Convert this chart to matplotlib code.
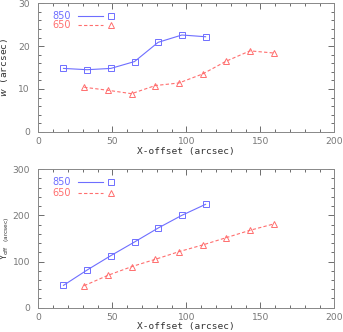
#!/usr/bin/env python3

# w and Y-offset against X-offset for the 850 and 650 samples

import matplotlib
matplotlib.use('Agg')
import matplotlib.pyplot as plt
from matplotlib.ticker import MultipleLocator

x_850 = [17, 33, 49, 65, 81, 97, 113]
x_650 = [31, 47, 63, 79, 95, 111, 127, 143, 159]
w_850 = [14.8, 14.5, 14.8, 16.4, 20.9, 22.6, 22.2]
w_650 = [10.4, 9.7, 8.9, 10.8, 11.4, 13.5, 16.5, 18.9, 18.4]
yoff_850 = [48.4, 81.7, 112.8, 142.4, 172.7, 200.2, 224.0]
yoff_650 = [47.7, 70.1, 88.9, 104.8, 121.4, 135.9, 151.8, 167.7, 181.4]
labels = ['850', '650']

blue = '#6e6eff'
red = '#ff6e6e'
mono = 'DejaVu Sans Mono'

fig = plt.figure(figsize=(3.43, 3.32), dpi=100)
ax1 = fig.add_axes([0.1117, 0.603, 0.863, 0.387])
ax2 = fig.add_axes([0.1117, 0.0732, 0.863, 0.417])


def style(ax, ymax, ymajor, yminor, xlab_y):
    ax.set_xlim(0, 200)
    ax.set_ylim(0, ymax)
    ax.xaxis.set_major_locator(MultipleLocator(50))
    ax.xaxis.set_minor_locator(MultipleLocator(10))
    ax.yaxis.set_major_locator(MultipleLocator(ymajor))
    ax.yaxis.set_minor_locator(MultipleLocator(yminor))
    ax.tick_params(which='both', direction='in', top=True, right=True,
                   labelsize=6.6, colors='#555555', labelcolor='#777777', width=0.6)
    ax.tick_params(which='major', length=4)
    ax.tick_params(which='minor', length=2)
    ax.tick_params(axis='y', pad=6)
    for s in ax.spines.values():
        s.set_color('#888888')
        s.set_linewidth(0.7)
    ax.set_xlabel('X-offset (arcsec)', family=mono, fontsize=6.8, color='#333333')
    ax.xaxis.set_label_coords(0.5, xlab_y)


def legend(ax):
    for i, (lab, col, ls, mk) in enumerate(zip(labels, [blue, red], ['-', '--'], ['s', '^'])):
        y = 0.905 - i * 0.075
        ax.text(0.047, y, lab, color=col, fontsize=7, va='center', transform=ax.transAxes)
        ax.plot([0.135, 0.22], [y, y], color=col, ls=ls, lw=0.8, dashes=(3, 2) if ls == '--' else (None, None),
                transform=ax.transAxes)
        ax.plot([0.247], [y], marker=mk, ms=3.8, mfc='none', mec=col, mew=0.7, transform=ax.transAxes)


def series(ax, y850, y650):
    ax.plot(x_850, y850, color=blue, lw=0.8, marker='s', ms=3.8, mfc='none', mec=blue, mew=0.7)
    ax.plot(x_650, y650, color=red, lw=0.8, ls='--', dashes=(3, 2), marker='^', ms=3.8,
            mfc='none', mec=red, mew=0.7)


series(ax1, w_850, w_650)
style(ax1, 30, 10, 2, -0.115)
legend(ax1)
ax1.set_ylabel(r'$w$ (arcsec)', family=mono, fontsize=6.8, color='#333333')
ax1.yaxis.set_label_coords(-0.094, 0.5)

series(ax2, yoff_850, yoff_650)
style(ax2, 300, 100, 20, -0.103)
legend(ax2)
ax2.set_ylabel(r'Y$_{\rm off}$ $_{\rm (arcsec)}$', family=mono, fontsize=6.0, color='#333333')
ax2.yaxis.set_label_coords(-0.089, 0.5)

fig.savefig('out.png', dpi=100)
